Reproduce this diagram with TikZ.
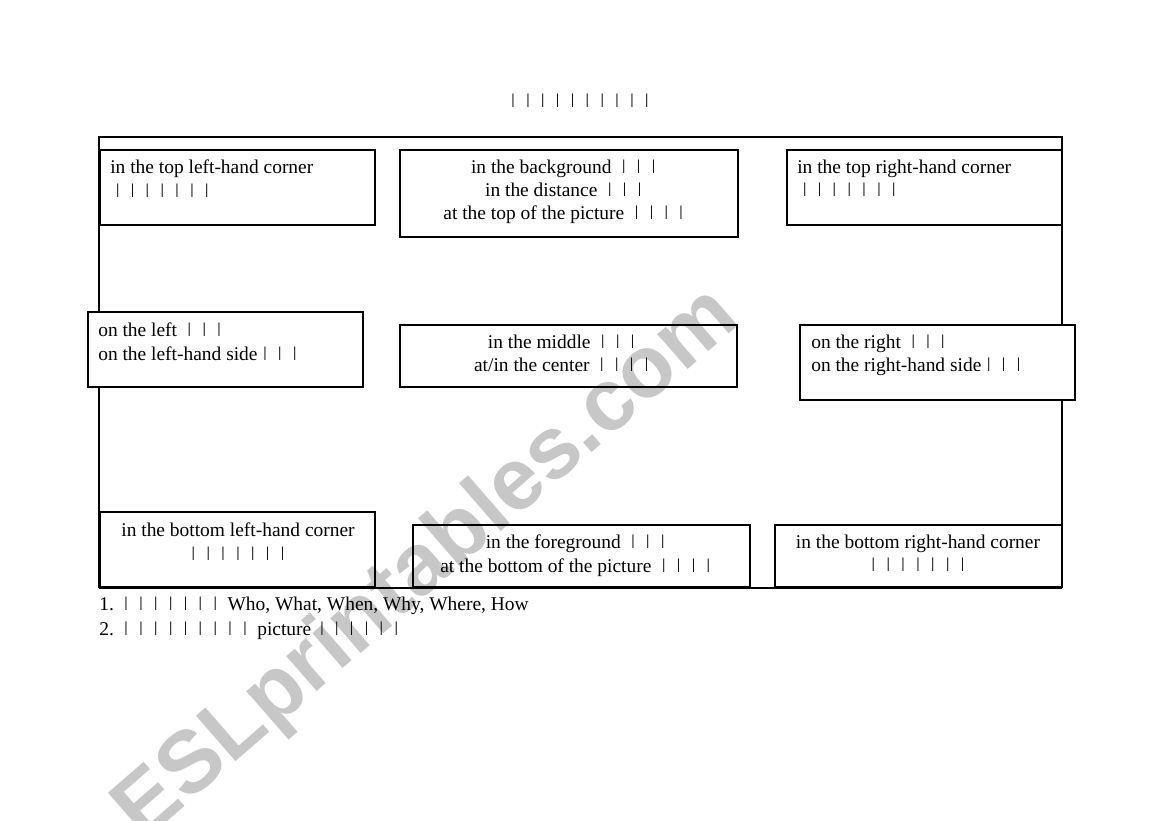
\documentclass[tikz,border=0pt]{standalone}
\usepackage{fontspec}
\setmainfont{Liberation Serif}
\newfontfamily\marksans{Liberation Sans}
\usetikzlibrary{positioning}
\newcommand{\tofu}[1]{\foreach \k in {1,...,#1}{\makebox[10.7pt]{ǀ}}}
\newcommand{\setup}{
    \coordinate (f0) at (99,137);
    \coordinate (f1) at (1062,588);

    \coordinate (tl0) at (100,150);
    \coordinate (tl1) at (375,225);
    \coordinate (tc0) at (400,150);
    \coordinate (tc1) at (738,237);
    \coordinate (tr0) at (787,150);
    \coordinate (tr1) at (1062,225);

    \coordinate (ml0) at (88,312);
    \coordinate (ml1) at (363,387);
    \coordinate (mc0) at (400,325);
    \coordinate (mc1) at (737,387);
    \coordinate (mr0) at (800,325);
    \coordinate (mr1) at (1075,400);

    \coordinate (bl0) at (100,512);
    \coordinate (bl1) at (375,587);
    \coordinate (bc0) at (413,525);
    \coordinate (bc1) at (750,587);
    \coordinate (br0) at (775,525);
    \coordinate (br1) at (1062,587);
}
\newcommand{\layout}[1]{
    \draw[line width=#1 pt] (f0 |- f1) -- (f0) -- (f0 -| f1) -- (f1); % outer frame
    \draw[line width=2*#1 pt] (f0 |- f1) -- (f1);

    \filldraw[line width=#1 pt,fill=white] (tl0) rectangle (tl1);
    \filldraw[line width=#1 pt,fill=white] (tc0) rectangle (tc1);
    \filldraw[line width=#1 pt,fill=white] (tr0) rectangle (tr1);
    \filldraw[line width=#1 pt,fill=white] (ml0) rectangle (ml1);
    \filldraw[line width=#1 pt,fill=white] (mc0) rectangle (mc1);
    \filldraw[line width=#1 pt,fill=white] (mr0) rectangle (mr1);
    \filldraw[line width=#1 pt,fill=white] (bl0) rectangle (bl1);
    \filldraw[line width=#1 pt,fill=white] (bc0) rectangle (bc1);
    \filldraw[line width=#1 pt,fill=white] (br0) rectangle (br1);
}
\tikzset{
    phrase/.style={inner sep=0pt,anchor=north west,align=left,
        font=\fontsize{14}{16.6}\selectfont},
    phrasec/.style={phrase,anchor=north,align=center},
    wmark/.style={inner sep=0pt,text=black,text opacity=0.22,
        font=\marksans\bfseries\fontsize{63}{63}\selectfont}
}
\begin{document}
\begin{tikzpicture}[x=0.72pt,y=-0.72pt]
          \useasboundingbox (0,0) rectangle (1169,821);
          \setup;
          \layout{0.75};

          \node[phrase,anchor=north] (title) at (580,94) {\tofu{10}};

          \node[phrase]  (tl) at (110,160) {in the top left-hand corner\\ \tofu{7}};
          \node[phrasec] (tc) at (566,160) {in the background \tofu{3}\\ in the distance \tofu{3}\\ at the top of the picture \tofu{4}};
          \node[phrase]  (tr) at (797,160) {in the top right-hand corner\\ \tofu{7}};

          \node[phrase]  (ml) at (98,323) {on the left \tofu{3}\\ on the left-hand side\tofu{3}};
          \node[phrasec] (mc) at (564,335) {in the middle \tofu{3}\\ at/in the center \tofu{4}};
          \node[phrase]  (mr) at (811,335) {on the right \tofu{3}\\ on the right-hand side\tofu{3}};

          \node[phrasec] (bl) at (238,523) {in the bottom left-hand corner\\ \tofu{7}};
          \node[phrasec] (bc) at (578,535) {in the foreground \tofu{3}\\ at the bottom of the picture \tofu{4}};
          \node[phrasec] (br) at (918,535) {in the bottom right-hand corner\\ \tofu{7}};

          \node[phrase] (q1) at (99,597) {1.\ \tofu{7} Who, What, When, Why, Where, How};
          \node[phrase] (q2) at (99,622) {2.\ \tofu{9}\ picture\,\tofu{6}};

          \node[wmark,rotate=41] (wm) at (428,565) {ESLprintables.com};
        \end{tikzpicture}
\end{document}
